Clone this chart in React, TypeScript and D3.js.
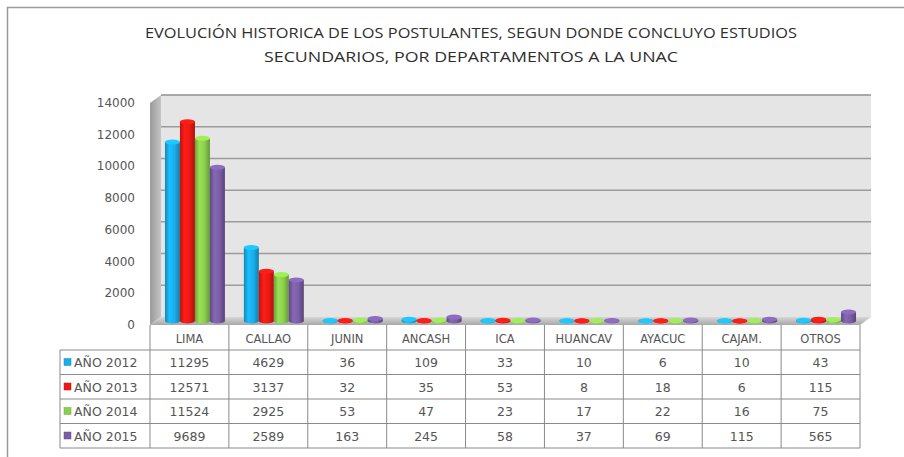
import React from "react";
import * as d3 from "d3";

const categories = ["LIMA", "CALLAO", "JUNIN", "ANCASH", "ICA", "HUANCAV", "AYACUC", "CAJAM.", "OTROS"];
const seriesNames = ["AÑO 2012", "AÑO 2013", "AÑO 2014", "AÑO 2015"];
const values2012 = [11295, 4629, 36, 109, 33, 10, 6, 10, 43];
const values2013 = [12571, 3137, 32, 35, 53, 8, 18, 6, 115];
const values2014 = [11524, 2925, 53, 47, 23, 17, 22, 16, 75];
const values2015 = [9689, 2589, 163, 245, 58, 37, 69, 115, 565];
const yTicks = [0, 2000, 4000, 6000, 8000, 10000, 12000, 14000];
const colors = ["#1aaeea", "#ec1a14", "#8ccf4c", "#7b5ea6"];
const titleLines = [
  "EVOLUCIÓN HISTORICA DE LOS POSTULANTES, SEGUN DONDE CONCLUYO ESTUDIOS",
  "SECUNDARIOS, POR DEPARTAMENTOS A LA UNAC",
];

const series = [values2012, values2013, values2014, values2015];

const W = 904;
const H = 457;
const font = "'Open Sans', 'DejaVu Sans', sans-serif";
const wideFont = "'DejaVu Sans', sans-serif";
const textColor = "#555";

export default function App() {
  // front plane of the 3D box, depth shift goes up-right
  const dx = 11;
  const dy = -8;
  const x = d3.scaleBand<string>().domain(categories).range([150, 860]);
  const y = d3.scaleLinear().domain([0, 14000]).range([325, 103]);
  const bw = x.bandwidth();
  const sub = d3.scaleBand<string>().domain(seriesNames).range([bw * 0.12, bw * 0.88]);
  const w = sub.bandwidth();

  const left = x.range()[0];
  const right = x.range()[1];
  const y0 = y(0);
  const yTop = y(14000);

  const rowTops = [350, 374.5, 399, 423.5];
  const rowH = 24.5;
  const tableBottom = rowTops[3] + rowH;

  return (
    <svg width={W} height={H} style={{ position: "absolute", left: 0, top: 0, background: "#fff" }}>
      <defs>
        <linearGradient id="leftWall" x1="0" x2="1" y1="0" y2="0">
          <stop offset="0" stopColor="#9a9a9a" />
          <stop offset="1" stopColor="#c4c4c4" />
        </linearGradient>
        <linearGradient id="floor" x1="0" x2="0" y1="0" y2="1">
          <stop offset="0" stopColor="#d6d6d6" />
          <stop offset="1" stopColor="#a8a8a8" />
        </linearGradient>
        {colors.map((c, i) => (
          <linearGradient key={i} id={`cyl${i}`} x1="0" x2="1" y1="0" y2="0">
            <stop offset="0" stopColor={d3.color(c)!.darker(0.7).formatHex()} />
            <stop offset="0.3" stopColor={d3.color(c)!.brighter(0.25).formatHex()} />
            <stop offset="0.65" stopColor={c} />
            <stop offset="1" stopColor={d3.color(c)!.darker(0.9).formatHex()} />
          </linearGradient>
        ))}
      </defs>

      {/* outer frame: only top and left edges fall inside the picture */}
      <rect x={7.5} y={7.5} width={940} height={480} fill="none" stroke="#9a9a9a" strokeWidth={1.5} />

      {/* title */}
      {titleLines.map((t, i) => (
        <text
          key={i}
          x={471}
          y={38 + i * 24}
          textAnchor="middle"
          fontFamily={font}
          fontSize={14}
          fill="#2e2e2e"
          textLength={i === 0 ? 652 : 414}
          lengthAdjust="spacingAndGlyphs"
        >
          {t}
        </text>
      ))}

      {/* back wall */}
      <rect x={left + dx} y={yTop + dy} width={right - left} height={y0 - yTop} fill="#e5e5e5" />
      <line x1={left + dx} x2={right + dx} y1={yTop + dy} y2={yTop + dy} stroke="#b0b0b0" strokeWidth={1} />
      {yTicks.slice(1).map((t) => (
        <line
          key={t}
          x1={left + dx}
          x2={right + dx}
          y1={y(t) + dy}
          y2={y(t) + dy}
          stroke="#9c9c9c"
          strokeWidth={1.5}
        />
      ))}

      {/* left wall */}
      <polygon
        points={`${left},${yTop} ${left + dx},${yTop + dy} ${left + dx},${y0 + dy} ${left},${y0}`}
        fill="url(#leftWall)"
      />

      {/* floor */}
      <polygon
        points={`${left},${y0} ${left + dx},${y0 + dy} ${right + dx},${y0 + dy} ${right},${y0}`}
        fill="url(#floor)"
      />

      {/* bars (cylinders) */}
      {categories.map((cat, ci) =>
        seriesNames.map((s, si) => {
          const v = series[si][ci];
          const bx = (x(cat) ?? 0) + (sub(s) ?? 0) + dx / 2;
          const top = y(v) + dy / 2;
          const bottom = y0 + dy / 2;
          const ry = 2.5;
          return (
            <g key={`${cat}-${s}`}>
              <rect x={bx} y={top} width={w} height={Math.max(0, bottom - top)} fill={`url(#cyl${si})`} />
              <ellipse cx={bx + w / 2} cy={bottom} rx={w / 2} ry={ry} fill={`url(#cyl${si})`} />
              <ellipse
                cx={bx + w / 2}
                cy={top}
                rx={w / 2}
                ry={ry}
                fill={d3.color(colors[si])!.brighter(0.4).formatHex()}
              />
            </g>
          );
        })
      )}

      {/* y axis labels */}
      {yTicks.map((t) => (
        <text
          key={t}
          x={135}
          y={y(t) + 4}
          textAnchor="end"
          fontFamily={wideFont}
          fontSize={12}
          fill={textColor}
        >
          {t}
        </text>
      ))}

      {/* data table */}
      <g stroke="#8a8a8a" strokeWidth={1} fill="none">
        {d3.range(categories.length + 1).map((i) => {
          const lx = left + i * bw;
          return <line key={i} x1={lx} x2={lx} y1={y0} y2={tableBottom} />;
        })}
        <line x1={60} x2={60} y1={rowTops[0]} y2={tableBottom} />
        {[...rowTops, tableBottom].map((ry, i) => (
          <line key={i} x1={60} x2={right} y1={ry} y2={ry} />
        ))}
      </g>
      {categories.map((cat) => (
        <text
          key={cat}
          x={(x(cat) ?? 0) + bw / 2}
          y={343}
          textAnchor="middle"
          fontFamily={wideFont}
          fontSize={11.5}
          fill={textColor}
        >
          {cat}
        </text>
      ))}
      {seriesNames.map((s, si) => (
        <g key={s}>
          <rect
            x={64}
            y={rowTops[si] + 8.5}
            width={7}
            height={7}
            fill={colors[si]}
            stroke={d3.color(colors[si])!.darker(0.6).formatHex()}
            strokeWidth={0.5}
          />
          <text x={74} y={rowTops[si] + 17} fontFamily={wideFont} fontSize={12.5} fill={textColor}>
            {s}
          </text>
          {categories.map((cat, ci) => (
            <text
              key={cat}
              x={(x(cat) ?? 0) + bw / 2}
              y={rowTops[si] + 17}
              textAnchor="middle"
              fontFamily={wideFont}
              fontSize={12.5}
              fill={textColor}
            >
              {series[si][ci]}
            </text>
          ))}
        </g>
      ))}
    </svg>
  );
}
